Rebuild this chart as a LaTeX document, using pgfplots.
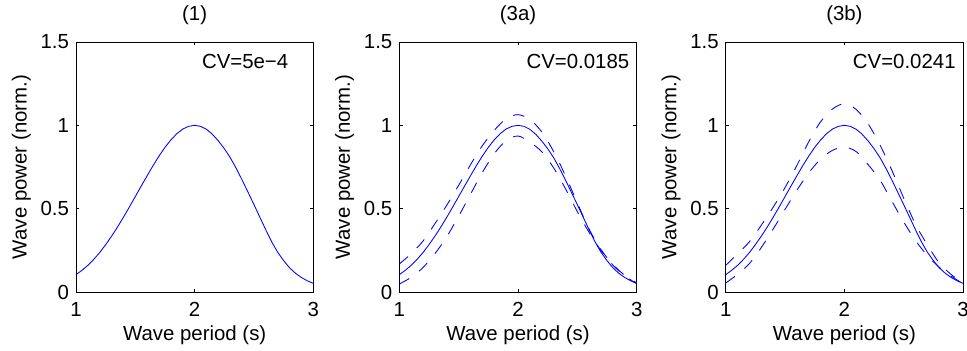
\documentclass[border=0pt]{standalone}
\usepackage{fontspec}
\setmainfont{Liberation Sans}
\usepackage{pgfplots}
\pgfplotsset{compat=1.18}
\usepackage{pgfplotstable}

\pgfplotstableread{
x y
1.00 0.104
1.05 0.130
1.10 0.160
1.15 0.196
1.20 0.237
1.25 0.284
1.30 0.335
1.35 0.390
1.40 0.449
1.45 0.510
1.50 0.573
1.55 0.636
1.60 0.698
1.65 0.759
1.70 0.816
1.75 0.868
1.80 0.913
1.85 0.950
1.90 0.978
1.95 0.994
2.00 1.000
2.05 0.994
2.10 0.976
2.15 0.946
2.20 0.906
2.25 0.860
2.30 0.806
2.35 0.742
2.40 0.672
2.45 0.598
2.50 0.524
2.55 0.448
2.60 0.372
2.65 0.300
2.70 0.238
2.75 0.188
2.80 0.145
2.85 0.112
2.90 0.087
2.95 0.067
3.00 0.052
}\solid

\pgfplotstableread{
x y
1.0 0.168
1.1 0.230
1.2 0.306
1.3 0.410
1.4 0.521
1.5 0.640
1.6 0.764
1.7 0.878
1.8 0.970
1.9 1.040
2.0 1.064
2.1 1.035
2.2 0.961
2.3 0.843
2.4 0.698
2.5 0.534
2.6 0.376
2.7 0.254
2.8 0.165
2.9 0.100
3.0 0.055
}\upA

\pgfplotstableread{
x y
1.0 0.048
1.1 0.088
1.2 0.147
1.3 0.230
1.4 0.332
1.5 0.455
1.6 0.587
1.7 0.718
1.8 0.830
1.9 0.908
2.0 0.936
2.1 0.899
2.2 0.842
2.3 0.745
2.4 0.620
2.5 0.482
2.6 0.357
2.7 0.249
2.8 0.161
2.9 0.097
3.0 0.050
}\loA

\pgfplotstableread{
x y
1.0 0.160
1.1 0.229
1.2 0.302
1.3 0.401
1.4 0.509
1.5 0.627
1.6 0.760
1.7 0.902
1.8 1.022
1.9 1.098
2.0 1.130
2.1 1.095
2.2 1.009
2.3 0.882
2.4 0.730
2.5 0.563
2.6 0.405
2.7 0.282
2.8 0.173
2.9 0.105
3.0 0.050
}\upB

\pgfplotstableread{
x y
1.0 0.054
1.1 0.106
1.2 0.171
1.3 0.267
1.4 0.378
1.5 0.496
1.6 0.611
1.7 0.715
1.8 0.798
1.9 0.850
2.0 0.870
2.1 0.842
2.2 0.764
2.3 0.672
2.4 0.545
2.5 0.420
2.6 0.308
2.7 0.218
2.8 0.148
2.9 0.095
3.0 0.050
}\loB

\pgfplotsset{
  panel/.style={
    scale only axis, width=178pt, height=187.5pt,
    anchor=south west,
    xmin=1, xmax=3, ymin=0, ymax=1.5,
    xtick={1,2,3}, ytick={0,0.5,1,1.5},
    tick align=inside, major tick length=2.5pt,
    axis line style={line width=0.6pt},
    tick style={black, line width=0.6pt},
    /pgf/number format/assume math mode=true,
    xticklabel style={anchor=base, yshift=-18pt},
    title style={at={(axis description cs:0.5,1.053)}, anchor=base, yshift=0pt},
    xlabel style={at={(axis description cs:0.5,-0.1947)}, anchor=base},
    ylabel style={at={(axis description cs:-0.2079,0.5)}, anchor=base},
    xlabel={Wave period (s)},
    ylabel={Wave power (norm.)},
  },
  curve/.style={blue, line width=0.65pt, no markers},
  dcurve/.style={blue, line width=0.65pt, no markers, smooth, dash pattern=on 8.5pt off 9.25pt},
}

\begin{document}
\fontsize{15.3}{18}\selectfont
\begin{tikzpicture}[font=\fontsize{15.3}{18}\selectfont]
\begin{axis}[panel, at={(57pt,43.5pt)}, title={(1)}]
  \addplot[curve] table[x=x,y=y] {\solid};
  \node[anchor=west, inner sep=0pt] at (axis cs:2.06,1.386) {CV=5e−4};
\end{axis}
\begin{axis}[panel, at={(299.5pt,43.5pt)}, title={(3a)}]
  \addplot[dcurve] table[x=x,y=y] {\upA};
  \addplot[dcurve] table[x=x,y=y] {\loA};
  \addplot[curve] table[x=x,y=y] {\solid};
  \node[anchor=west, inner sep=0pt] at (axis cs:2.07,1.386) {CV=0.0185};
\end{axis}
\begin{axis}[panel, at={(544.3pt,43.5pt)}, title={(3b)}]
  \addplot[dcurve] table[x=x,y=y] {\upB};
  \addplot[dcurve] table[x=x,y=y] {\loB};
  \addplot[curve] table[x=x,y=y] {\solid};
  \node[anchor=west, inner sep=0pt] at (axis cs:2.07,1.386) {CV=0.0241};
\end{axis}
\pgfresetboundingbox
\path[use as bounding box] (0,0) rectangle (725.25pt,262.5pt);
\end{tikzpicture}
\end{document}
